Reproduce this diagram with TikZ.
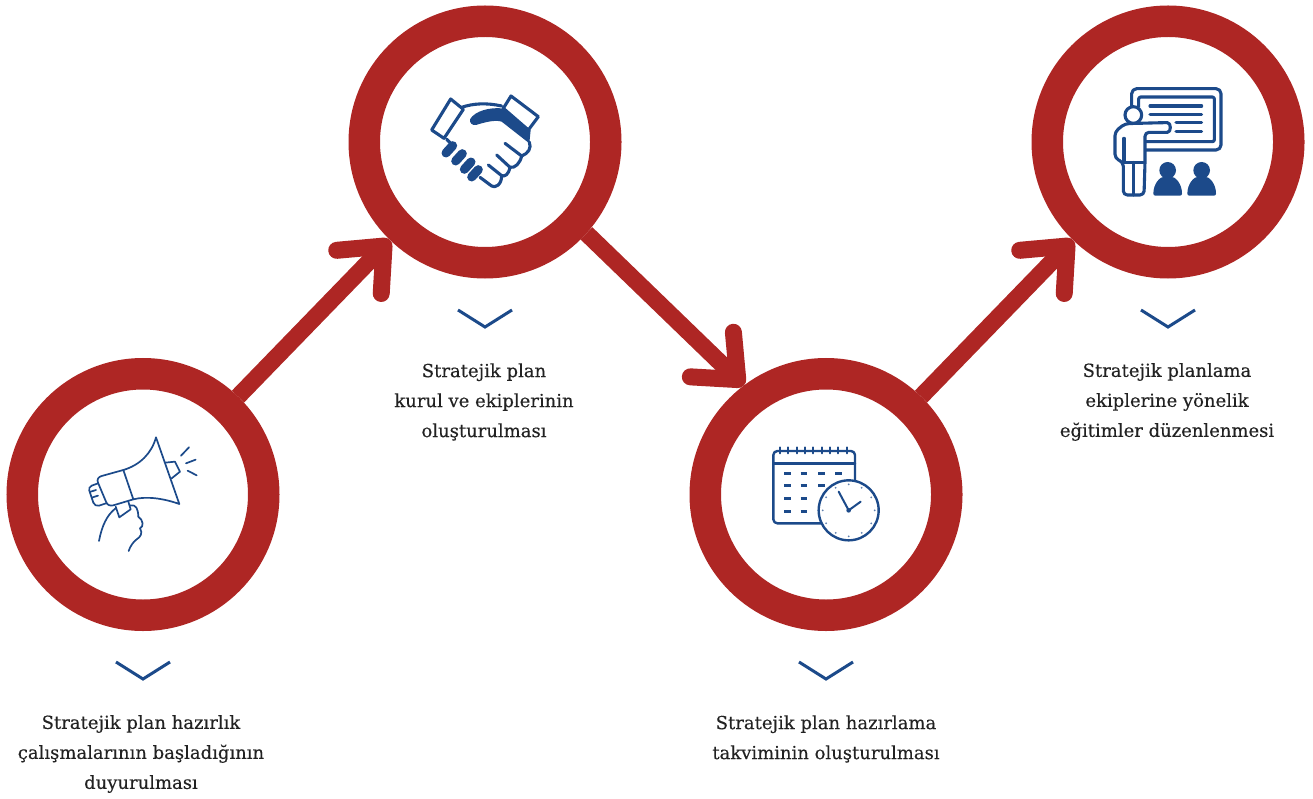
\documentclass[tikz,border=0pt]{standalone}
\usepackage{fontspec}
\setmainfont{DejaVu Serif}
\usetikzlibrary{arrows.meta,calc}
\definecolor{ringred}{HTML}{AE2624}
\definecolor{iconblue}{HTML}{1C4A8A}
\definecolor{txt}{HTML}{222222}
\tikzset{
 x=1pt,y=-1pt,
 ring/.style={circle,draw=ringred,line width=31.5pt,fill=white,minimum size=241.5pt,inner sep=0pt,outer sep=15.75pt},
 conn/.style={draw=ringred,line width=17pt,-{Straight Barb[round,length=36pt,width=62pt]}},
 chev/.style={draw=iconblue,line width=3pt},
 lbl/.style={font=\fontsize{18}{30}\selectfont\addfontfeature{FakeBold=0.25},text=txt,align=center,inner sep=0pt},
 ico/.style={draw=iconblue,line width=1.7pt,line cap=round,line join=round},
 icob/.style={draw=iconblue,line width=3.1pt,line cap=round,line join=round},
 icoc/.style={draw=iconblue,line width=2.4pt,line cap=round,line join=round},
}
\begin{document}
\begin{tikzpicture}
\useasboundingbox (0,0) rectangle (1313,799);
\node[ring] (c1) at (143,494.5) {};
\node[ring] (c2) at (485,142) {};
\node[ring] (c3) at (826,494.5) {};
\node[ring] (c4) at (1168,142) {};
\draw[conn] (c1) -- (c2);
\draw[conn] (c2.-42) -- (c3.127.7);
\draw[conn] (c3) -- (c4);
% chevrons
\foreach \n/\x/\y in {a/143/662,b/485/310,d/826/662,e/1168/310}{
 \coordinate (\n l) at (\x-27,\y);
 \coordinate (\n m) at (\x,\y+17);
 \coordinate (\n r) at (\x+27,\y);
 \draw[chev] (\n l) -- (\n m) -- (\n r);
}
% labels
\node[lbl] (t1) at (141,754) {Stratejik plan hazırlık\\çalışmalarının başladığının\\duyurulması};
\node[lbl] (t2) at (484,402) {Stratejik plan\\kurul ve ekiplerinin\\oluşturulması};
\node[lbl] (t3) at (826,739) {Stratejik plan hazırlama\\takviminin oluşturulması};
\node[lbl] (t4) at (1167,402) {Stratejik planlama\\ekiplerine yönelik\\eğitimler düzenlenmesi};
% megaphone
\begin{scope}[shift={(70,420)},scale=1/3]
\draw[ico] (160,150) .. controls (210,135) and (245,100) .. (258,52) -- (328,252) .. controls (280,235) and (230,228) .. (190,238) -- cycle;
\draw[ico] (160,150) -- (95,168) .. controls (85,171) and (80,178) .. (84,188) -- (108,245) .. controls (112,256) and (120,258) .. (130,256) -- (190,238);
\draw[ico] (84,190) -- (65,197) .. controls (58,200) and (56,206) .. (58,212) -- (70,248) .. controls (73,256) and (80,258) .. (87,257) -- (108,250);
\draw[ico] (62,215) -- (78,210) (68,232) -- (84,227);
\draw[ico] (285,128) -- (315,125) -- (330,155) -- (305,175);
\draw[ico] (333,107) -- (357,82) (348,130) -- (377,119) (353,152) -- (380,166);
\draw[ico] (137,260) -- (148,292) -- (182,268) -- (175,245);
\draw[ico] (87,363) .. controls (95,320) and (110,285) .. (137,265);
\draw[ico] (182,256) .. controls (198,254) and (204,265) .. (205,290) .. controls (220,300) and (222,320) .. (210,325) .. controls (220,340) and (210,352) .. (200,358) .. controls (190,365) and (180,380) .. (176,393);
\end{scope}
% handshake
\begin{scope}[shift={(420,80)},scale=1/3]
\draw[icob] (92,57) -- (130,88) -- (72,175) -- (35,150) -- cycle;
\draw[icob] (273,48) -- (355,110) -- (325,150) -- (250,85) -- cycle;
\fill[iconblue] (150,118) .. controls (165,92) and (210,82) .. (245,85) -- (332,150) -- (328,190) -- (245,125) .. controls (225,118) and (190,128) .. (168,135) .. controls (156,137) and (148,128) .. (150,118) -- cycle;
\draw[icob] (125,82) .. controls (160,70) and (200,68) .. (245,78);
\draw[icob] (80,178) -- (92,190);
\draw[icob] (328,186) .. controls (335,205) and (325,220) .. (305,228) -- (255,190) (305,228) .. controls (300,250) and (285,265) .. (270,262) -- (230,225) (270,262) .. controls (265,285) and (255,290) .. (245,287) -- (205,255) (245,287) .. controls (245,315) and (225,325) .. (215,318) -- (180,292);
\foreach \cx/\cy in {88/208,117/232,143/257,165/280}{\draw[iconblue,line width=9pt,line cap=round] (\cx-10,\cy+11) -- (\cx+10,\cy-11);}
\end{scope}
% calendar
\begin{scope}[shift={(760,435)},scale=1/3]
\draw[icoc,rounded corners=4pt] (285,140) -- (285,48) -- (40,48) -- (40,265) -- (185,265);
\draw[icoc] (40,85) -- (285,85);
\foreach \x in {60,85,...,260}{\draw[icoc,line width=2pt] (\x,37) -- (\x,55);}
\foreach \y/\l in {115/{72,122,175,225},152/{72,122,175},190/{72,122},228/{72,122}}{
 \foreach \x in \l {\draw[iconblue,line width=3pt] (\x,\y) -- +(20,0);}
}
\draw[icoc,fill=white] (266,226) circle[radius=90];
\draw[icoc,line width=2pt] (236,170) -- (266,226) -- (302,200);
\fill[iconblue] (266,226) circle[radius=7];
\foreach \a in {0,30,...,330}{\fill[iconblue!70] ($(266,226)+(\a:78)$) circle[radius=3];}
\end{scope}
% presenter
\begin{scope}[shift={(1100,75)},scale=1/3]
\draw[icob,rounded corners=5pt] (95,95) -- (95,41) -- (363,41) -- (363,225) -- (135,225);
\draw[icob,rounded corners=2pt] (116,95) -- (116,66) -- (343,66) -- (343,200) -- (135,200);
\foreach \y/\a in {93/150,118/150,143/228,170/228}{\draw[icob] (\a,\y) -- (305,\y);}
\draw[icob,fill=white,rounded corners=4pt] (70,360) -- (70,262) -- (45,250) -- (45,170) -- (75,146) -- (190,143) .. controls (214,143) and (214,172) .. (190,172) -- (135,172) -- (135,262) -- (132,360) -- cycle;
\draw[icob] (72,190) -- (72,262) -- (130,262) (100,262) -- (100,360);
\draw[icob,fill=white] (100,120) circle[radius=25];
\foreach \x in {203,305}{
 \fill[iconblue] (\x,286) circle[radius=25];
 \fill[iconblue,rounded corners=2pt] (\x-43,362) .. controls (\x-43,328) and (\x-25,304) .. (\x,304) .. controls (\x+25,304) and (\x+43,328) .. (\x+43,362) -- cycle;
}
\end{scope}
\end{tikzpicture}
\end{document}
